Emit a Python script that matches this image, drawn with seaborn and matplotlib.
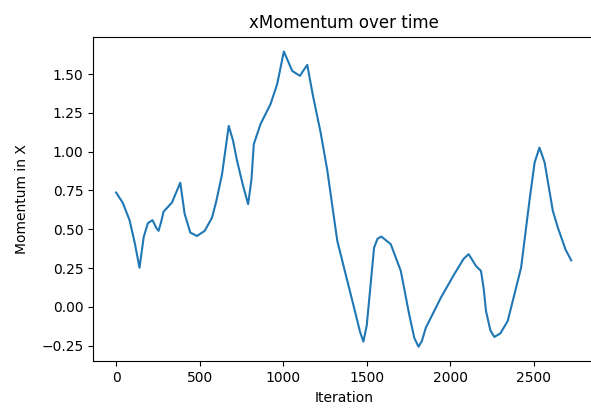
import pandas as pd
import matplotlib
matplotlib.use('Agg')
import matplotlib.pyplot as plt
import seaborn as sns

# values
iteration = [0, 40, 80, 110, 140, 165, 190, 218, 240, 254, 270, 284, 334, 384,
             410, 444, 484, 530, 574, 600, 634, 674, 700, 724, 760, 790, 810,
             824, 864, 924, 964, 1004, 1030, 1054, 1100, 1144, 1180, 1224, 1264,
             1304, 1324, 1364, 1424, 1460, 1480, 1500, 1514, 1544, 1565, 1588,
             1644, 1704, 1754, 1785, 1810, 1830, 1854, 1884, 1944, 2024, 2080,
             2110, 2154, 2184, 2200, 2214, 2240, 2264, 2300, 2344, 2424, 2474,
             2505, 2534, 2565, 2614, 2644, 2690, 2724]
momentum_x = [0.737, 0.67, 0.56, 0.42, 0.253, 0.45, 0.54, 0.559, 0.51, 0.49,
              0.55, 0.614, 0.672, 0.80, 0.60, 0.479, 0.457, 0.49, 0.575, 0.683,
              0.855, 1.166, 1.07, 0.94, 0.78, 0.662, 0.82, 1.048, 1.177, 1.306,
              1.435, 1.645, 1.58, 1.52, 1.488, 1.559, 1.35, 1.124, 0.88, 0.575,
              0.425, 0.253, -0.004, -0.16, -0.223, -0.12, 0.039, 0.382, 0.44,
              0.453, 0.404, 0.232, -0.047, -0.20, -0.256, -0.22, -0.133, -0.069,
              0.060, 0.211, 0.31, 0.34, 0.264, 0.232, 0.12, -0.026, -0.15,
              -0.193, -0.17, -0.09, 0.253, 0.683, 0.93, 1.026, 0.93, 0.619,
              0.511, 0.37, 0.30]

df = pd.DataFrame({'Iteration': iteration, 'xMomentum': momentum_x})

fig = plt.figure(figsize=(5.91, 4.08), dpi=100)
# right spine sits just past the picture edge, like in the reference
ax = fig.add_axes([0.158, 0.114, 0.847, 0.796])
sns.lineplot(data=df, x='Iteration', y='xMomentum', ax=ax, color='#1f77b4', linewidth=1.5)
ax.set_title('xMomentum over time')
ax.set_xlabel('Iteration')
ax.set_ylabel('Momentum in X', labelpad=9)

fig.savefig('out.png', dpi=100)
